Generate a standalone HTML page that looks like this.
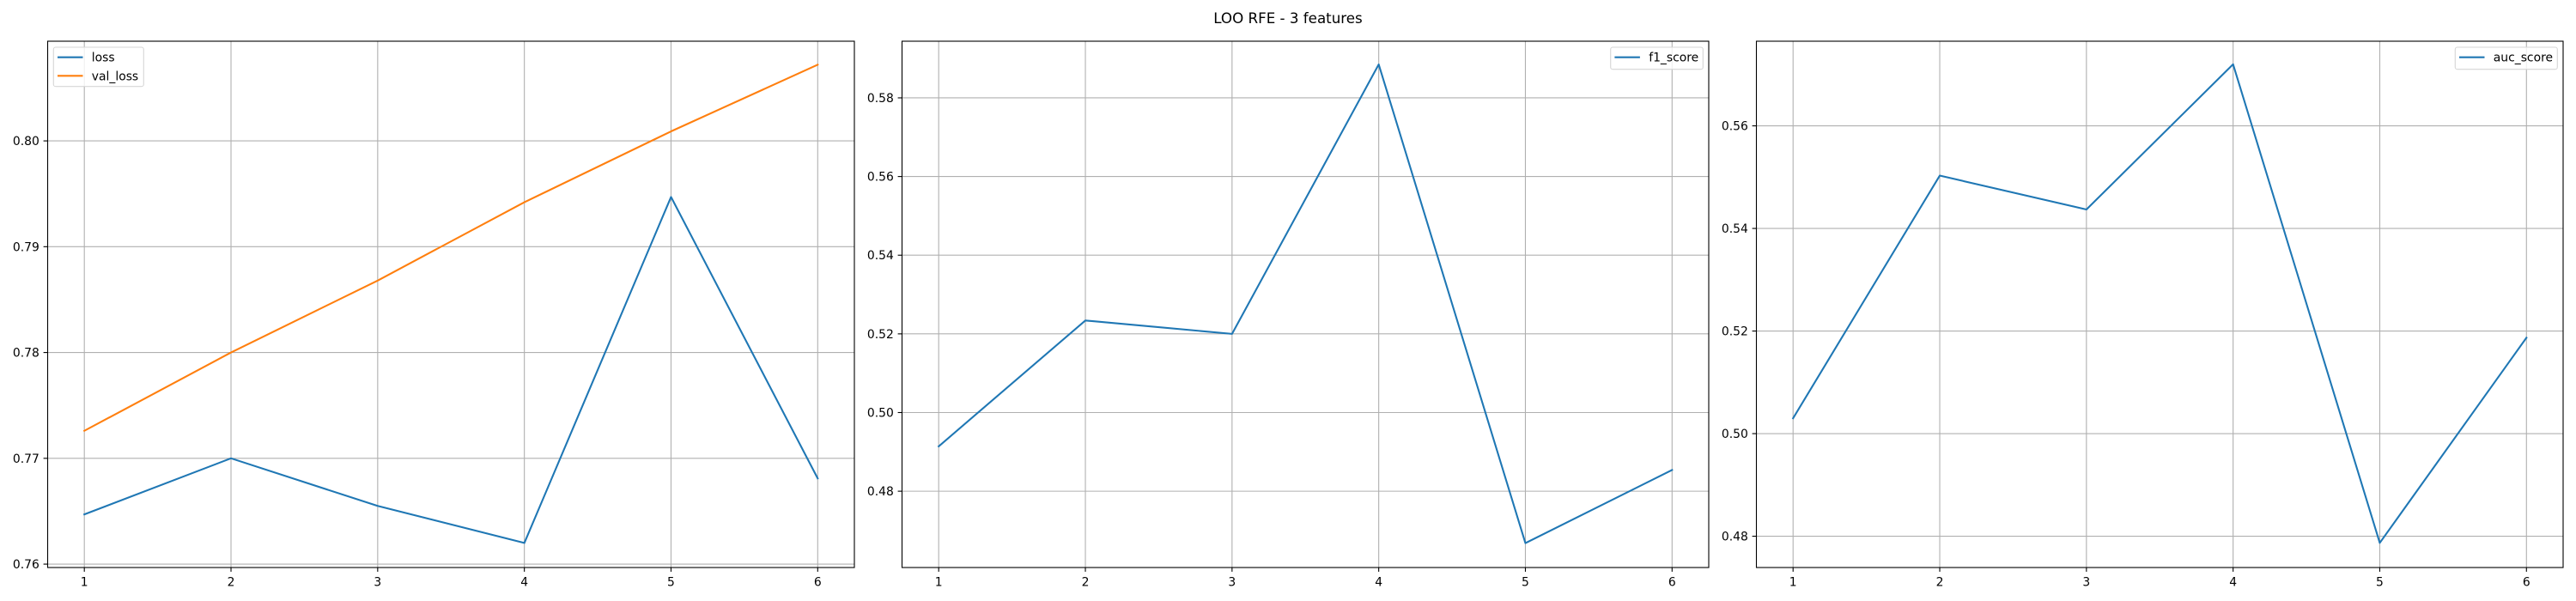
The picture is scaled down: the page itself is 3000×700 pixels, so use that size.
<!DOCTYPE html>
<html><head><meta charset="utf-8">
<style>
html,body{margin:0;padding:0;background:#fff;}
svg{display:block;font-family:"DejaVu Sans","Liberation Sans",sans-serif;}
</style></head>
<body>
<svg id="fig" width="3000" height="700" viewBox="0 0 3000 700" xmlns="http://www.w3.org/2000/svg">
<rect width="3000" height="700" fill="#fff"/>
<text x="1500" y="27" font-size="16.7" text-anchor="middle" fill="#000">LOO RFE - 3 features</text>
</svg>
<script>
const epochs = [1, 2, 3, 4, 5, 6];
const lossValues = [0.7647, 0.7700, 0.7655, 0.7620, 0.7947, 0.7681];
const valLossValues = [0.7726, 0.7800, 0.7868, 0.7942, 0.8009, 0.8072];
const f1Values = [0.4914, 0.5234, 0.5200, 0.5885, 0.4668, 0.4854];
const aucValues = [0.5030, 0.5503, 0.5437, 0.5720, 0.4787, 0.5187];
const xTickLabels = ['1', '2', '3', '4', '5', '6'];
const lossTicks = [0.76, 0.77, 0.78, 0.79, 0.80];
const f1Ticks = [0.48, 0.50, 0.52, 0.54, 0.56, 0.58];
const aucTicks = [0.48, 0.50, 0.52, 0.54, 0.56];

const NS = 'http://www.w3.org/2000/svg';
const svg = document.getElementById('fig');
function mk(tag, attrs, parent) {
  const e = document.createElementNS(NS, tag);
  for (const k in attrs) e.setAttribute(k, attrs[k]);
  (parent || svg).appendChild(e);
  return e;
}

const panels = [
  {name: 'loss-panel', left: 55.5, right: 995, ymin: 0.75968, ymax: 0.80942, ticks: lossTicks,
   series: [{name: 'loss', vals: lossValues, color: '#1f77b4'}, {name: 'val_loss', vals: valLossValues, color: '#ff7f0e'}],
   legend: 'left'},
  {name: 'f1-panel', left: 1050.5, right: 1990, ymin: 0.4606, ymax: 0.5944, ticks: f1Ticks,
   series: [{name: 'f1_score', vals: f1Values, color: '#1f77b4'}], legend: 'right'},
  {name: 'auc-panel', left: 2045.5, right: 2985, ymin: 0.4739, ymax: 0.5765, ticks: aucTicks,
   series: [{name: 'auc_score', vals: aucValues, color: '#1f77b4'}], legend: 'right'}
];
const axTop = 48, axBottom = 661;
const xmin = 0.75, xmax = 6.25;

panels.forEach(p => {
  const g = mk('g', {});
  
  
  const xs = v => p.left + (v - xmin) / (xmax - xmin) * (p.right - p.left);
  const ys = v => axBottom - (v - p.ymin) / (p.ymax - p.ymin) * (axBottom - axTop);

  epochs.forEach((e, i) => {
    const l = mk('line', {x1: xs(e), x2: xs(e), y1: axTop, y2: axBottom, stroke: '#b0b0b0', 'stroke-width': 1.1}, g);
    
    
    const t = mk('line', {x1: xs(e), x2: xs(e), y1: axBottom, y2: axBottom + 4.9, stroke: '#000', 'stroke-width': 1.1}, g);
    
    
    const tx = mk('text', {x: xs(e), y: axBottom + 21.5, 'font-size': 13.9, 'text-anchor': 'middle', fill: '#000'}, g);
    tx.textContent = xTickLabels[i];
    
    
  });
  p.ticks.forEach(v => {
    const l = mk('line', {x1: p.left, x2: p.right, y1: ys(v), y2: ys(v), stroke: '#b0b0b0', 'stroke-width': 1.1}, g);
    
    
    const t = mk('line', {x1: p.left - 4.9, x2: p.left, y1: ys(v), y2: ys(v), stroke: '#000', 'stroke-width': 1.1}, g);
    
    
    const tx = mk('text', {x: p.left - 9.7, y: ys(v) + 5, 'font-size': 13.9, 'text-anchor': 'end', fill: '#000'}, g);
    tx.textContent = v.toFixed(2);
    
    
  });
  p.series.forEach(s => {
    const pts = s.vals.map((v, i) => xs(epochs[i]) + ',' + ys(v)).join(' ');
    const pl = mk('polyline', {points: pts, fill: 'none', stroke: s.color, 'stroke-width': 2.08, 'stroke-linejoin': 'round', 'stroke-linecap': 'square'}, g);
    
    
  });
  const fr = mk('rect', {x: p.left, y: axTop, width: p.right - p.left, height: axBottom - axTop, fill: 'none', stroke: '#000', 'stroke-width': 1.1}, g);
  
  
  let lx0, lw;
  if (p.legend === 'left') { lx0 = 62.3; lw = 105; }
  else { lw = p.series[0].name === 'f1_score' ? 107.6 : 119; lx0 = p.right - 6.7 - lw; }
  const lh = p.series.length === 2 ? 45.7 : 25.7;
  const lg = mk('g', {}, g);
  
  
  mk('rect', {x: lx0, y: 55, width: lw, height: lh, rx: 2.5, fill: '#fff', 'fill-opacity': 0.8, stroke: '#d6d6d6', 'stroke-width': 1.1}, lg);
  p.series.forEach((s, i) => {
    const yy = 66.7 + i * 21.6;
    const h = mk('line', {x1: lx0 + 4.7, x2: lx0 + 34.2, y1: yy, y2: yy, stroke: s.color, 'stroke-width': 2.08}, lg);
    
    
    const t = mk('text', {x: lx0 + 44.5, y: yy + 5, 'font-size': 13.9, fill: '#000'}, lg);
    t.textContent = s.name;
    
    
  });
});
</script>
</body></html>
